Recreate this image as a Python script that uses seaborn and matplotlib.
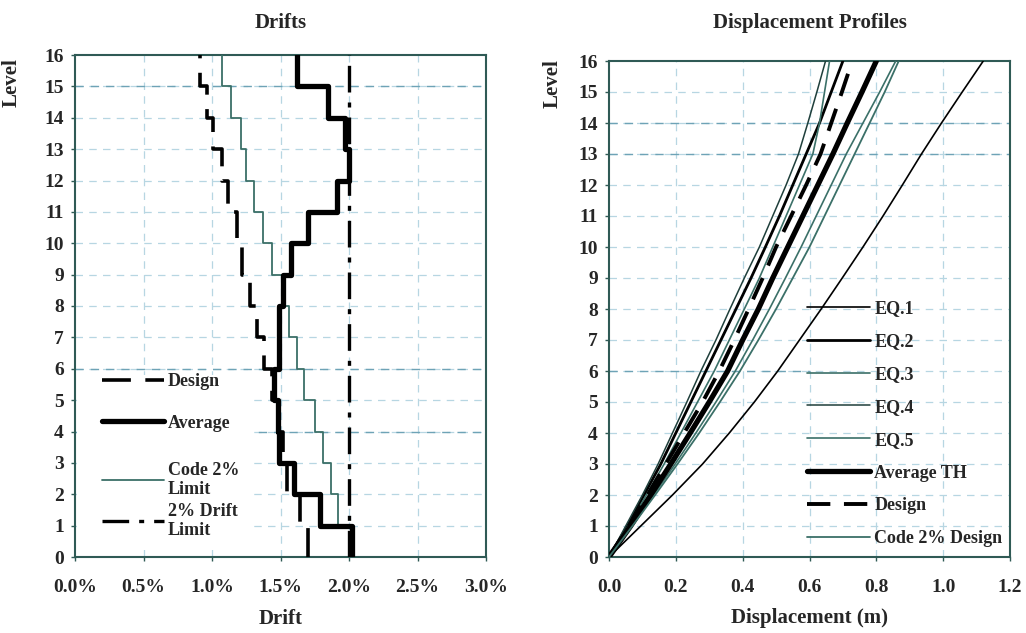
import numpy as np
import pandas as pd
import matplotlib
matplotlib.use("Agg")
import matplotlib.pyplot as plt
import seaborn as sns
from matplotlib.lines import Line2D
from matplotlib.patches import Rectangle

# ---------------- data ----------------
levels = list(range(0, 17))
stories = list(range(1, 17))

# story drifts (%) for stories 1..16
drift_design = [1.70, 1.64, 1.55, 1.52, 1.48, 1.44, 1.38, 1.33, 1.28, 1.22, 1.18, 1.12, 1.07, 1.01, 0.96, 0.91]
drift_average = [2.02, 1.79, 1.60, 1.49, 1.48, 1.45, 1.49, 1.49, 1.52, 1.58, 1.70, 1.91, 2.00, 1.97, 1.85, 1.62]
drift_code = [2.03, 1.92, 1.87, 1.81, 1.75, 1.67, 1.62, 1.56, 1.51, 1.44, 1.37, 1.31, 1.25, 1.21, 1.14, 1.07]
drift_limit = 2.0

# displacement (m) at levels 0..16
disp_eq1 = [0, 0.095, 0.19, 0.28, 0.36, 0.435, 0.505, 0.57, 0.635, 0.698, 0.76, 0.82, 0.878, 0.935, 0.995, 1.057, 1.12]
disp_eq2 = [0, 0.055, 0.105, 0.155, 0.20, 0.245, 0.29, 0.335, 0.38, 0.425, 0.468, 0.51, 0.55, 0.59, 0.63, 0.665, 0.70]
disp_eq3 = [0, 0.058, 0.112, 0.165, 0.215, 0.265, 0.315, 0.36, 0.405, 0.45, 0.49, 0.53, 0.57, 0.61, 0.63, 0.645, 0.66]
disp_eq4 = [0, 0.05, 0.10, 0.147, 0.19, 0.233, 0.275, 0.32, 0.362, 0.405, 0.45, 0.49, 0.53, 0.567, 0.595, 0.622, 0.648]
disp_eq5 = [0, 0.068, 0.133, 0.198, 0.26, 0.32, 0.378, 0.43, 0.48, 0.528, 0.575, 0.62, 0.665, 0.71, 0.76, 0.81, 0.858]
disp_avg = [0, 0.065, 0.125, 0.185, 0.243, 0.30, 0.355, 0.40, 0.447, 0.49, 0.535, 0.58, 0.625, 0.67, 0.713, 0.757, 0.80]
disp_design = [0, 0.06, 0.115, 0.17, 0.225, 0.28, 0.33, 0.375, 0.418, 0.46, 0.50, 0.545, 0.59, 0.633, 0.665, 0.697, 0.728]
disp_code = [0, 0.07, 0.138, 0.205, 0.27, 0.332, 0.392, 0.447, 0.50, 0.55, 0.60, 0.645, 0.69, 0.735, 0.78, 0.825, 0.867]

drift_ticks = [0.0, 0.5, 1.0, 1.5, 2.0, 2.5, 3.0]
disp_ticks = [0.0, 0.2, 0.4, 0.6, 0.8, 1.0, 1.2]

# ---------------- style ----------------
sns.set_style("white")
plt.rcParams["font.family"] = ["Liberation Serif", "DejaVu Serif"]
plt.rcParams["font.weight"] = "bold"

TEAL = "#3b7068"
SPINE = "#2f5a55"
GRID_LIGHT = "#b7d6e2"
GRID_DARK = "#6ea3b6"
TICKFS = 14
LABFS = 15
LEGFS = 13

fig = plt.figure(figsize=(10.26, 6.33), dpi=100)
axL = fig.add_axes([75 / 1026, 1 - 557 / 633, 411 / 1026, 502 / 633])
axR = fig.add_axes([609 / 1026, 1 - 557 / 633, 401 / 1026, 496 / 633])


def step_frame(vals):
    xs = np.repeat(vals, 2)
    ys = np.ravel([[s - 1, s] for s in stories])
    return pd.DataFrame({"x": xs, "y": ys})


# ---------------- left: drifts ----------------
ax = axL
for lv in levels[1:16]:
    ax.axhline(lv, color=GRID_LIGHT, lw=0.9, ls=(0, (6, 5)), zorder=0)
for t in drift_ticks[1:-1]:
    ax.axvline(t, color=GRID_LIGHT, lw=0.9, ls=(0, (6, 5)), zorder=0)
ax.axhline(15, color=GRID_DARK, lw=1.0, ls=(0, (6, 5)), zorder=0)
ax.axhline(6, color=GRID_DARK, lw=1.0, ls=(0, (6, 5)), zorder=0)
ax.axhline(4, color=GRID_DARK, lw=1.0, ls=(0, (6, 5)), zorder=0)
ax.add_patch(Rectangle((0.004, 0.025), 0.43, 0.338, transform=ax.transAxes,
                       facecolor="white", edgecolor="none", zorder=1))

sns.lineplot(data=step_frame(drift_design), x="x", y="y", sort=False, estimator=None,
             ax=ax, color="black", lw=2.6, zorder=3)
ax.lines[-1].set_dashes([8, 4])
sns.lineplot(data=step_frame(drift_code), x="x", y="y", sort=False, estimator=None,
             ax=ax, color=TEAL, lw=1.3, zorder=3)
sns.lineplot(data=step_frame(drift_average), x="x", y="y", sort=False, estimator=None,
             ax=ax, color="black", lw=3.8, zorder=4)
lim_df = pd.DataFrame({"x": [drift_limit, drift_limit], "y": [levels[0], levels[-1]]})
sns.lineplot(data=lim_df, x="x", y="y", sort=False, estimator=None, ax=ax,
             color="black", lw=2.4, zorder=3)
ax.lines[-1].set_dashes([8, 3, 1.5, 3])

ax.set_xlim(0, 3.0)
ax.set_ylim(0, 16)
ax.set_xticks(drift_ticks)
ax.set_xticklabels([f"{t:.1f}%" for t in drift_ticks])
ax.set_yticks(levels)
ax.set_title("Drifts", fontsize=LABFS, fontweight="bold", pad=19.5)
ax.set_xlabel("Drift", fontsize=LABFS, fontweight="bold", labelpad=10)
ax.set_ylabel("Level", fontsize=LABFS, fontweight="bold")
ax.yaxis.set_label_coords(-0.131, 0.945)

legkw = dict(fontsize=LEGFS, handlelength=3.45, handletextpad=0.2,
             frameon=False, borderpad=0, borderaxespad=0)
hL1 = [Line2D([], [], color="black", lw=2.6, dashes=[8, 4]),
       Line2D([], [], color="black", lw=3.8)]
leg1 = ax.legend(hL1, ["Design", "Average"], loc="upper left",
                 bbox_to_anchor=(0.066, 0.366), labelspacing=1.35, **legkw)
ax.add_artist(leg1)
hL2 = [Line2D([], [], color=TEAL, lw=1.3),
       Line2D([], [], color="black", lw=2.4, dashes=[8, 3, 1.5, 3])]
leg2 = ax.legend(hL2, ["Code 2%\nLimit", "2% Drift\nLimit"], loc="upper left",
                 bbox_to_anchor=(0.066, 0.19), labelspacing=0.3, **legkw)
for lg in (leg1, leg2):
    lg.set_zorder(5)
    for tx in lg.get_texts():
        tx.set_linespacing(1.15)

# ---------------- right: displacement ----------------
ax = axR
for lv in levels[1:16]:
    ax.axhline(lv, color=GRID_LIGHT, lw=0.9, ls=(0, (6, 5)), zorder=0)
for t in disp_ticks[1:-1]:
    ax.axvline(t, color=GRID_LIGHT, lw=0.9, ls=(0, (6, 5)), zorder=0)
ax.axhline(14, color=GRID_DARK, lw=1.0, ls=(0, (6, 5)), zorder=0)
ax.axhline(13, color=GRID_DARK, lw=1.0, ls=(0, (6, 5)), zorder=0)
ax.axhline(6, xmin=0, xmax=0.5, color=GRID_DARK, lw=1.0, ls=(0, (6, 5)), zorder=0)

series = [
    ("EQ.1", disp_eq1, "black", 1.2, None),
    ("EQ.2", disp_eq2, "black", 2.0, None),
    ("EQ.3", disp_eq3, TEAL, 1.2, None),
    ("EQ.4", disp_eq4, "#1f3f3b", 1.1, None),
    ("EQ.5", disp_eq5, TEAL, 1.2, None),
    ("Average TH", disp_avg, "black", 3.8, None),
    ("Design", disp_design, "black", 2.8, [6, 3.5]),
    ("Code 2% Design", disp_code, TEAL, 1.3, None),
]
handles = []
for name, vals, col, lw, dash in series:
    df = pd.DataFrame({"x": vals, "y": levels})
    sns.lineplot(data=df, x="x", y="y", sort=False, estimator=None, ax=ax,
                 color=col, lw=lw, zorder=3)
    ln = ax.lines[-1]
    h = Line2D([], [], color=col, lw=lw)
    if dash:
        ln.set_dashes(dash)
        h.set_dashes(dash)
    handles.append(h)

ax.set_xlim(0, 1.2)
ax.set_ylim(0, 16)
ax.set_xticks(disp_ticks)
ax.set_xticklabels([f"{t:.1f}" for t in disp_ticks])
ax.set_yticks(levels)
ax.set_title("Displacement Profiles", fontsize=LABFS, fontweight="bold", pad=23.5)
ax.set_xlabel("Displacement (m)", fontsize=LABFS, fontweight="bold", labelpad=9)
ax.set_ylabel("Level", fontsize=LABFS, fontweight="bold")
ax.yaxis.set_label_coords(-0.115, 0.955)

legR = ax.legend(handles, [s[0] for s in series], loc="upper left",
                 bbox_to_anchor=(0.495, 0.518), fontsize=LEGFS, handlelength=3.45,
                 handletextpad=0.25, labelspacing=0.88, frameon=False,
                 borderpad=0, borderaxespad=0)

for a in (axL, axR):
    for s in a.spines.values():
        s.set_color(SPINE)
        s.set_linewidth(1.5)
    a.tick_params(axis="both", which="major", labelsize=TICKFS, length=3, width=1,
                  color=SPINE, direction="out", left=True, bottom=True)
    a.tick_params(axis="x", pad=12.5)
    a.tick_params(axis="y", pad=5)
    for lab in a.get_xticklabels() + a.get_yticklabels():
        lab.set_fontweight("bold")

fig.savefig("out.png", dpi=100)
